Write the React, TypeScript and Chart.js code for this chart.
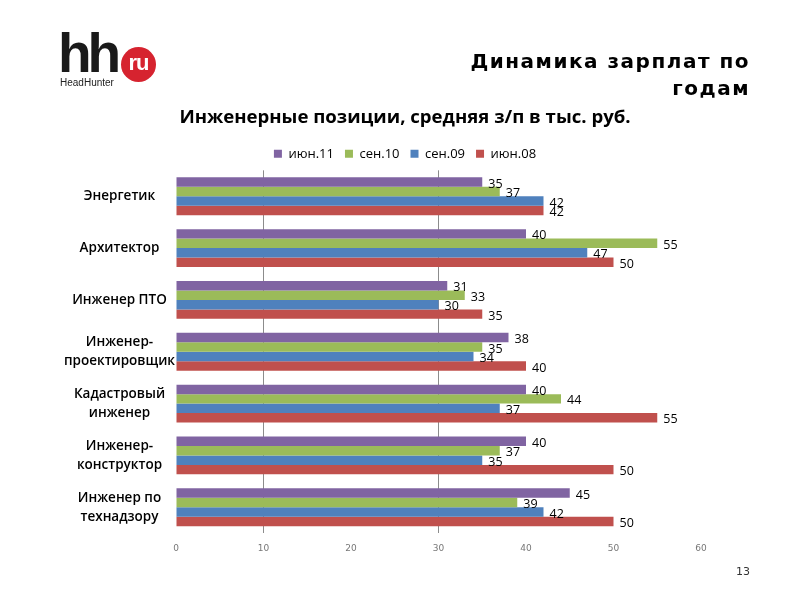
import React, { useEffect, useRef } from "react";
import { Chart, registerables } from "chart.js";

Chart.register(...registerables);

const categories: (string | string[])[] = [
  "Энергетик",
  "Архитектор",
  "Инженер ПТО",
  ["Инженер-", "проектировщик"],
  ["Кадастровый", "инженер"],
  ["Инженер-", "конструктор"],
  ["Инженер по", "технадзору"],
];

const seriesNames = ["июн.11", "сен.10", "сен.09", "июн.08"];
const jun11 = [35, 40, 31, 38, 40, 40, 45];
const sep10 = [37, 55, 33, 35, 44, 37, 39];
const sep09 = [42, 47, 30, 34, 37, 35, 42];
const jun08 = [42, 50, 35, 40, 55, 50, 50];
const seriesColors = ["#8064A2", "#9BBB59", "#4F81BD", "#C0504D"];
const gridValues = [10, 30];

const chartTitle = "Инженерные позиции, средняя з/п в тыс. руб.";
const headerLines = ["Динамика зарплат по", "годам"];
const pageNumber = "13";

const valueLabels = {
  id: "valueLabels",
  afterDatasetsDraw(chart: any) {
    const ctx = chart.ctx;
    ctx.save();
    ctx.font = "12.5px 'Open Sans'";
    ctx.fillStyle = "#000";
    ctx.textAlign = "left";
    ctx.textBaseline = "middle";
    chart.data.datasets.forEach((ds: any, di: number) => {
      const meta = chart.getDatasetMeta(di);
      meta.data.forEach((bar: any, i: number) => {
        const v = ds.data[i];
        ctx.fillText(String(v), bar.x + 6, bar.y + 2);
      });
    });
    ctx.restore();
  },
};

function ChartCanvas() {
  const ref = useRef<HTMLCanvasElement | null>(null);
  useEffect(() => {
    if (!ref.current) return;
    const data = [jun11, sep10, sep09, jun08];
    const chart = new Chart(ref.current, {
      type: "bar",
      data: {
        labels: categories,
        datasets: seriesNames.map((n, i) => ({
          label: n,
          data: data[i],
          backgroundColor: seriesColors[i],
          borderWidth: 0,
          barPercentage: 1,
          categoryPercentage: 0.73,
        })),
      },
      options: {
        indexAxis: "y",
        animation: false,
        responsive: false,
        maintainAspectRatio: false,
        layout: { padding: { top: 100, right: 0, bottom: 36, left: 10 } },
        plugins: {
          title: {
            display: true,
            text: chartTitle,
            color: "#000",
            font: { family: "'Open Sans'", size: 18.6, weight: "bold" },
            padding: { top: 7, bottom: 7 },
          },
          legend: {
            display: true,
            position: "top",
            labels: {
              boxWidth: 8,
              boxHeight: 8,
              padding: 11,
              color: "#000",
              font: { family: "'Open Sans'", size: 13 },
            },
          },
          tooltip: { enabled: false },
        },
        scales: {
          x: {
            min: 0,
            max: 60,
            ticks: {
              stepSize: 10,
              padding: 10,
              color: "#777",
              font: { family: "'DejaVu Sans'", size: 9 },
            },
            grid: {
              drawTicks: false,
              lineWidth: 1,
              color: (c: any) =>
                c.tick && gridValues.includes(c.tick.value) ? "#8c8c8c" : "rgba(0,0,0,0)",
            },
            border: { display: false },
          },
          y: {
            afterFit: (scale: any) => {
              scale.width = 166;
            },
            ticks: {
              crossAlign: "center",
              padding: 1,
              color: "#000",
              font: { family: "'Open Sans'", size: 13.5, weight: 600, lineHeight: 1.4 },
            },
            grid: { display: false, drawTicks: false },
            border: { display: false },
          },
          yRight: {
            type: "category",
            position: "right",
            afterFit: (scale: any) => {
              scale.width = 99;
            },
            ticks: { display: false },
            grid: { display: false, drawTicks: false },
            border: { display: false },
          },
        },
      },
      plugins: [valueLabels],
    });
    return () => chart.destroy();
  }, []);
  return (
    <canvas
      ref={ref}
      width={800}
      height={600}
      style={{ position: "absolute", left: 0, top: 0, width: 800, height: 600 }}
    />
  );
}

export default function App() {
  return (
    <div
      style={{
        position: "fixed",
        left: 0,
        top: 0,
        width: 800,
        height: 600,
        background: "#fff",
        overflow: "hidden",
      }}
    >
      <ChartCanvas />
      {/* logo */}
      <div
        style={{
          position: "absolute",
          left: 58,
          top: 18,
          fontFamily: "'Liberation Sans', Arial, sans-serif",
          fontWeight: "bold",
          fontSize: 55,
          letterSpacing: -4,
          color: "#1a1a1a",
          lineHeight: "70px",
        }}
      >
        hh
      </div>
      <div
        style={{
          position: "absolute",
          left: 121,
          top: 47,
          width: 35,
          height: 35,
          borderRadius: "50%",
          background: "#d6232f",
          color: "#fff",
          fontFamily: "'Liberation Sans', Arial, sans-serif",
          fontWeight: "bold",
          fontSize: 22,
          lineHeight: "31px",
          textAlign: "center",
          letterSpacing: -1,
        }}
      >
        ru
      </div>
      <div
        style={{
          position: "absolute",
          left: 60,
          top: 77,
          fontFamily: "'Liberation Sans', Arial, sans-serif",
          fontSize: 10,
          color: "#222",
        }}
      >
        HeadHunter
      </div>
      {/* header */}
      <div
        style={{
          position: "absolute",
          right: 50,
          top: 48,
          textAlign: "right",
          fontFamily: "'DejaVu Sans', sans-serif",
          fontWeight: "bold",
          fontSize: 20,
          lineHeight: "27px",
          letterSpacing: 1.5,
          color: "#000",
        }}
      >
        {headerLines.map((l, i) => (
          <div key={i}>{l}</div>
        ))}
      </div>
      <div
        style={{
          position: "absolute",
          right: 50,
          top: 565,
          fontFamily: "'DejaVu Sans', sans-serif",
          fontSize: 11,
          color: "#333",
        }}
      >
        {pageNumber}
      </div>
    </div>
  );
}
